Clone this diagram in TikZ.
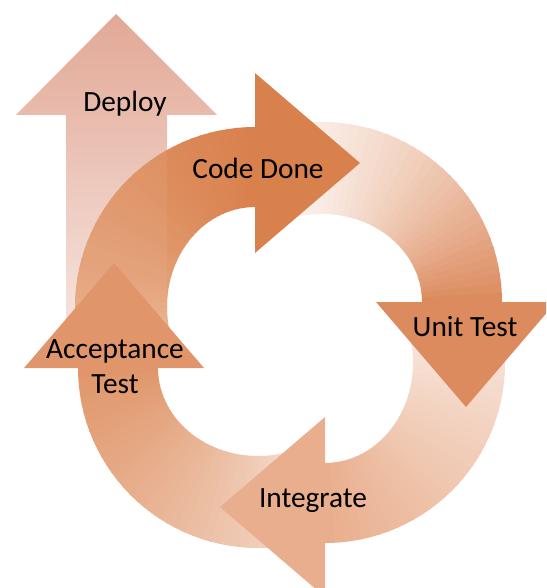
\documentclass[tikz,border=0pt]{standalone}
\usepackage{fontspec}
\setmainfont{Carlito}
\definecolor{dephead}{RGB}{226,168,150}
\definecolor{deptail}{RGB}{246,228,222}
\definecolor{cdhead}{RGB}{217,129,77}
\definecolor{cdtail}{RGB}{236,184,150}
\definecolor{uthead}{RGB}{220,139,94}
\definecolor{uttail}{RGB}{251,240,234}
\definecolor{inhead}{RGB}{233,174,141}
\definecolor{intail}{RGB}{248,230,220}
\definecolor{athead}{RGB}{224,150,106}
\definecolor{attail}{RGB}{244,218,203}
% #1 x, #2 y, #3 rotation, #4 head colour, #5 tail colour, #6 gradient exponent
\newcommand\cyclearrow[6]{%
  \begin{scope}[shift={(#1,#2)}, rotate=#3]
    \foreach \i in {0,...,34}{
      \pgfmathsetmacro{\angA}{165+3*\i}
      \pgfmathsetmacro{\angB}{min(270,\angA+3.6)}
      \pgfmathtruncatemacro{\pp}{100*(\i/34)^#6}
      \fill[#4!\pp!#5] (\angA:180) arc[start angle=\angA, end angle=\angB, radius=180]
        -- (\angB:88 and 100) arc[start angle=\angB, end angle=\angA, x radius=88, y radius=100] -- cycle;
    }
  \end{scope}}
\newcommand\cyclehead[4]{%
  \begin{scope}[shift={(#1,#2)}, rotate=#3]
    \fill[#4] (0,-54) -- (0,-234) -- (105,-144) -- cycle;
  \end{scope}}
\begin{document}
\begin{tikzpicture}[x=0.75pt,y=-0.75pt,
  lbl/.style={font=\fontsize{22}{26.5}\selectfont, text=black, inner sep=0pt}]
\useasboundingbox (0,0) rectangle (546,588);
\clip (0,0) rectangle (546,588);
% Deploy arrow
\shade[top color=dephead, bottom color=deptail]
  (66,330) -- (66,115) -- (16,115) -- (116,14) -- (217,115) -- (167,115) -- (167,330) -- cycle;
% arc bands
\cyclearrow{255}{307}{0}{cdhead}{cdtail}{0.6}
\cyclearrow{322}{302}{-90}{uthead}{uttail}{1.4}
\cyclearrow{325}{363}{-180}{inhead}{intail}{1.0}
\cyclearrow{258}{368}{-270}{athead}{attail}{0.8}
% the Deploy shaft faintly showing through the Code Done band
\begin{scope}
  \clip (66,115) rectangle (167,330);
  \fill[deptail, opacity=0.07, shift={(255,307)}]
    (165:180) arc[start angle=165, end angle=270, radius=180]
    -- (270:88 and 100) arc[start angle=270, end angle=165, x radius=88, y radius=100] -- cycle;
\end{scope}
% arrow heads
\cyclehead{255}{307}{0}{cdhead}
\cyclehead{322}{302}{-90}{uthead}
\cyclehead{325}{363}{-180}{inhead}
\cyclehead{258}{368}{-270}{athead}
% labels
\node[lbl, anchor=base] (deploy) at (125,112) {Deploy};
\node[lbl, anchor=base] (codedone) at (258,178) {Code Done};
\node[lbl, anchor=base] (unittest) at (465,336) {Unit Test};
\node[lbl, anchor=base] (integrate) at (313,507) {Integrate};
\node[lbl, align=center] (acctest) at (115,367) {Acceptance\\Test};
\end{tikzpicture}
\end{document}
